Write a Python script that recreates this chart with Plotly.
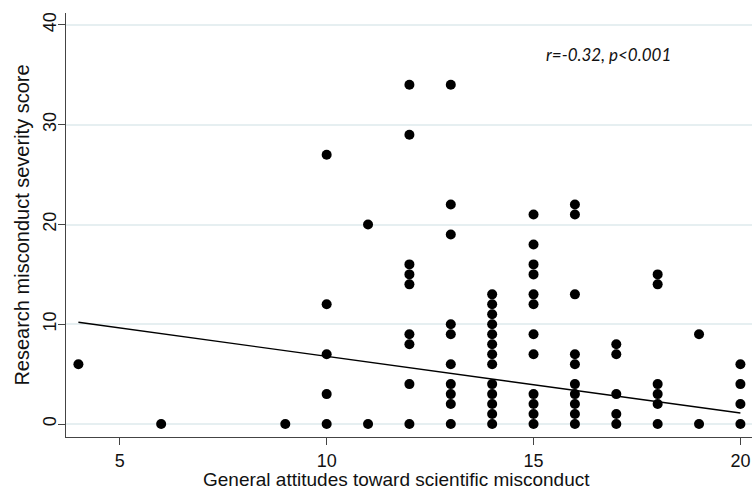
import plotly.graph_objects as go

# Data (x = attitude score, y = severity score)
col_x = [4, 6, 9, 10, 11, 12, 13, 14, 15, 16, 17, 18, 19, 20]
col_values = [
    [6],
    [0],
    [0],
    [27, 12, 7, 3, 0],
    [20, 0],
    [34, 29, 16, 15, 14, 9, 8, 4, 0],
    [34, 22, 19, 10, 9, 6, 4, 3, 2, 0],
    [13, 12, 11, 10, 9, 8, 7, 6, 4, 3, 2, 1, 0],
    [21, 18, 16, 15, 13, 12, 9, 7, 3, 2, 1, 0],
    [22, 21, 13, 7, 6, 4, 3, 2, 1, 0],
    [8, 7, 3, 1, 0],
    [15, 14, 4, 3, 2, 0],
    [9, 0],
    [6, 4, 2, 0],
]
# Fitted regression line as drawn in the reference (read at its two ends)
fit_x = [4, 20]
fit_y = [10.2, 1.1]

x_ticks = [5, 10, 15, 20]
y_ticks = [0, 10, 20, 30, 40]
x_title = "General attitudes toward scientific misconduct"
y_title = "Research misconduct severity score"
annotation_text = "r=-0.32, p<0.001"

xs = [cx for cx, vals in zip(col_x, col_values) for _ in vals]
ys = [v for vals in col_values for v in vals]

fig = go.Figure()
fig.add_trace(go.Scatter(
    x=xs, y=ys, mode="markers",
    marker=dict(color="black", size=10, line=dict(width=0)),
    showlegend=False, cliponaxis=False,
))
fig.add_trace(go.Scatter(
    x=fit_x, y=fit_y, mode="lines",
    line=dict(color="black", width=1.4),
    showlegend=False,
))

font_main = "Liberation Sans, Arial, sans-serif"
fig.update_layout(
    width=752, height=489,
    margin=dict(l=66, r=0, t=13, b=52),
    paper_bgcolor="white", plot_bgcolor="white",
    font=dict(family=font_main, size=18, color="#111"),
    xaxis=dict(
        range=[3.70, 20.28], tickvals=x_ticks, ticks="outside", ticklen=7,
        tickcolor="#444", showline=True, linecolor="#444", linewidth=1,
        showgrid=False, zeroline=False,
        tickfont=dict(size=18),
    ),
    yaxis=dict(
        range=[-1.3, 41.2], tickvals=y_ticks, ticks="outside", ticklen=7,
        tickcolor="#444", showline=True, linecolor="#444", linewidth=1,
        showgrid=True, gridcolor="#e6eff1", gridwidth=1.5, zeroline=False,
        tickangle=-90, tickfont=dict(size=18), ticklabelstandoff=-5,
        title=dict(text=y_title, font=dict(size=20), standoff=4),
    ),
    annotations=[
        dict(
            x=0.7915, y=0.901, xref="paper", yref="paper",
            xanchor="center", yanchor="middle",
            text="<i>" + annotation_text + "</i>", showarrow=False,
            font=dict(family="Lato, Carlito, sans-serif", size=17, color="#111"),
        ),
        dict(
            x=0.4825, y=-0.101, xref="paper", yref="paper",
            xanchor="center", yanchor="middle",
            text=x_title, showarrow=False,
            font=dict(family=font_main, size=19, color="#111"),
        ),
    ],
)

fig.write_html(
    "out.html",
    config={"displayModeBar": False},
    post_script="document.body.style.margin='0';document.body.style.overflow='hidden';",
)
